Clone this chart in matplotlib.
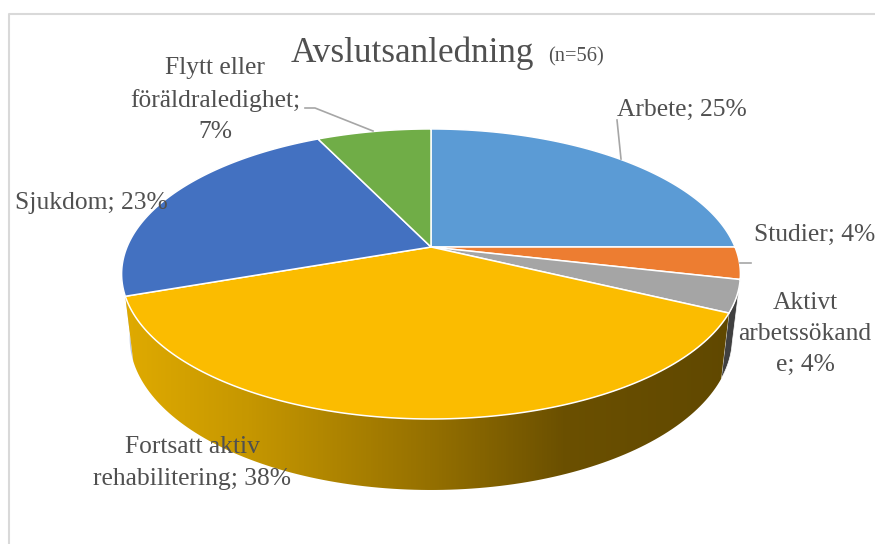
import matplotlib
matplotlib.use("Agg")
import matplotlib.pyplot as plt
import numpy as np
from matplotlib.colors import LinearSegmentedColormap
from matplotlib.patches import Polygon

# Counts behind the percentages (n=56), clockwise from 12 o'clock
names = ["Arbete", "Studier", "Aktivt\narbetssökand\ne", "Fortsatt aktiv\nrehabilitering",
         "Sjukdom", "Flytt eller\nföräldraledighet;\n"]
counts = [14, 2, 2, 21, 13, 4]
colors = ["#5B9BD5", "#ED7D31", "#A5A5A5", "#FBBC00", "#4371C1", "#70AD47"]
title = "Avslutsanledning"
subtitle = "(n=56)"

text_color = "#505050"
leader_color = "#A6A6A6"

# Label anchors in figure pixels
label_pos = [(682, 110), (815, 235), (805, 334), (192, 463), (91, 203), (215, 100)]

plt.rcParams["font.family"] = ["Liberation Serif", "DejaVu Serif"]

fig = plt.figure(figsize=(8.75, 5.44), dpi=100)
ax = fig.add_axes([0, 0, 1, 1])

# Perspective of the pie top
cx, cy = 431, 247
rx, ry, k = 304, 140, 0.186


def top_curve(a0, a1, n=120):
    t = np.radians(np.linspace(a0, a1, n))
    x, y = np.cos(t), np.sin(t)
    d = 1 + k * y
    return cx + rx * x / d, cy - ry * y / d


def bottom_curve(a0, a1, n=120):
    x, y = top_curve(a0, a1, n)
    return cx + 0.974 * (x - cx), cy + 1.05 * (y - cy) + 62.4


def wall(a0, a1):
    xt, yt = top_curve(a0, a1)
    xb, yb = bottom_curve(a0, a1)
    return np.column_stack([np.r_[xt, xb[::-1]], np.r_[yt, yb[::-1]]])


total = sum(counts)
edges = 90 - 360 * np.cumsum([0] + counts) / total

# Side walls: Sjukdom and Aktivt slivers, then the gradient of Fortsatt
ax.add_patch(Polygon(wall(edges[4], edges[4] - 25), closed=True, fc="#B9C7E0", ec="none"))
ax.add_patch(Polygon(wall(edges[2], edges[3]), closed=True, fc="#404040", ec="#FFFFFF", lw=0.5))

front = Polygon(wall(edges[3], edges[4]), closed=True, fc="none", ec="none")
ax.add_patch(front)
shade = LinearSegmentedColormap.from_list(
    "shade",
    [(0.0, "#DFAA00"), (0.2, "#C69700"), (0.5, "#957000"), (0.72, "#6B5000"), (1.0, "#604800")],
)
im = ax.imshow(np.linspace(0, 1, 600)[None, :], cmap=shade, aspect="auto",
               extent=[125, 735, 500, 280], zorder=1)
im.set_clip_path(front)

# Top slices
for i, color in enumerate(colors):
    xs, ys = top_curve(edges[i], edges[i + 1])
    ax.fill(np.r_[cx, xs], np.r_[cy, ys], fc=color, ec="white", lw=1.1, zorder=2, joinstyle="round")

# Leader lines
ax.plot([617, 621], [120, 159], color=leader_color, lw=1.2, zorder=3)
ax.plot([740, 751], [263, 263], color=leader_color, lw=1.2, zorder=3)
ax.plot([305, 315, 373], [108, 108, 131], color=leader_color, lw=1.2, zorder=3)

# Labels
for name, c, (lx, ly) in zip(names, counts, label_pos):
    pct = round(100 * c / total)
    sep = "" if name.endswith("\n") else "; "
    ax.text(lx, ly, f"{name}{sep}{pct}%", ha="center", va="center", fontsize=18.4,
            color=text_color, linespacing=1.55, zorder=4, clip_on=True)

ax.text(412, 53, title, ha="center", va="center", fontsize=25.3, color=text_color, zorder=4)
ax.text(576, 57, subtitle, ha="center", va="center", fontsize=14.8, color=text_color, zorder=4)

# Frame of the chart area, cropped on the right and at the bottom
ax.plot([8.5, 8.5, 875], [544, 13.5, 13.5], color="#D9D9D9", lw=1.5, zorder=0)

ax.set_xlim(0, 875)
ax.set_ylim(544, 0)
ax.axis("off")

plt.savefig("out.png", dpi=100)
